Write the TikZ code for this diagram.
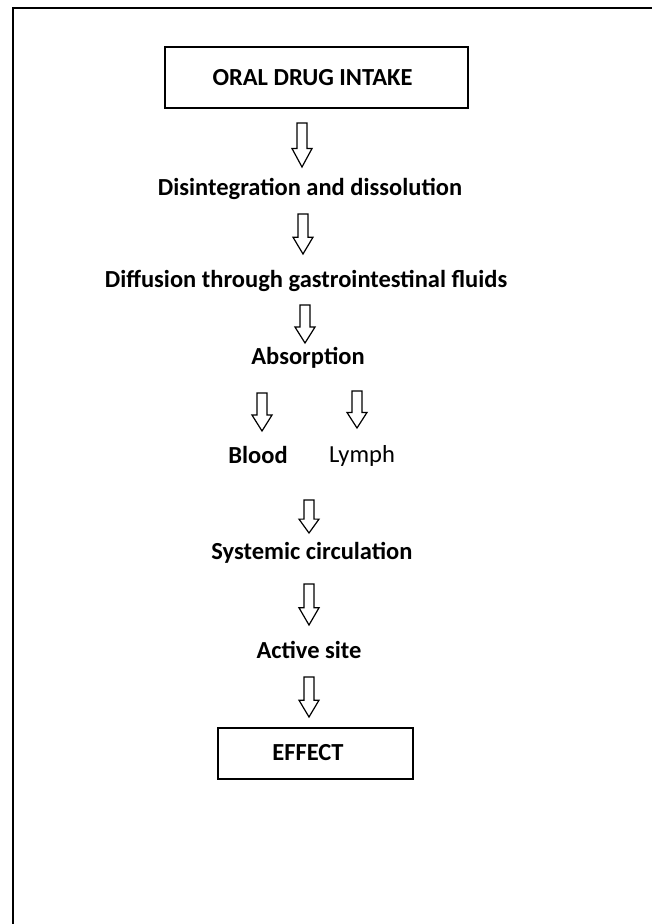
\documentclass[tikz,border=0pt]{standalone}
\usepackage{fontspec}
\setmainfont{Carlito}
\usetikzlibrary{calc}
\tikzset{
  lbl/.style={font=\bfseries\fontsize{24.5}{28}\selectfont, inner sep=0pt, anchor=base},
  lblreg/.style={font=\fontsize{24.5}{28}\selectfont, inner sep=0pt, anchor=base},
  boxnode/.style={draw, line width=1.5pt, inner sep=0pt},
  arr/.style={draw, line width=1.2pt, line join=miter, fill=white},
}
\newcommand\barrow[2]{%
  \draw[arr] let \p1=(#1), \p2=(#2), \n1={(\y2-\y1)*0.58} in
    (\x1-5pt,\y1) -- (\x1+5pt,\y1) -- (\x1+5pt,\y1+\n1) -- (\x1+10pt,\y1+\n1)
    -- (\x1,\y2) -- (\x1-10pt,\y1+\n1) -- (\x1-5pt,\y1+\n1) -- cycle;}
\begin{document}
\begin{tikzpicture}[x=1pt,y=-1pt]
\useasboundingbox (0,0) rectangle (651,924);
\fill[white] (0,0) rectangle (651,924);
% outer frame (cropped at right and bottom)
\draw[line width=2.2pt] (13,935) -- (13,8) -- (665,8);
% boxes
\node[boxnode, minimum width=303, minimum height=61] (oral) at (316.5,77.5) {};
\node[lbl] (oraltxt) at (312.5,85) {ORAL DRUG INTAKE};
\node[boxnode, minimum width=195, minimum height=51] (effect) at (315.5,753.5) {};
\node[lbl] (effecttxt) at (308,760) {EFFECT};
% labels
\node[lbl] (dis) at (310,195) {Disintegration and dissolution};
\node[lbl] (dif) at (306,287) {Diffusion through gastrointestinal fluids};
\node[lbl] (abs) at (308,364) {Absorption};
\node[lbl] (blood) at (258,463) {Blood};
\node[lblreg] (lymph) at (362,462) {Lymph};
\node[lbl] (sys) at (312,559) {Systemic circulation};
\node[lbl] (act) at (309,658) {Active site};
% arrow end points
\coordinate (a1t) at (302,123); \coordinate (a1b) at (302,167);
\coordinate (a2t) at (303,214); \coordinate (a2b) at (303,254);
\coordinate (a3t) at (305,305); \coordinate (a3b) at (305,343);
\coordinate (a4t) at (262,393); \coordinate (a4b) at (262,431);
\coordinate (a5t) at (357,391); \coordinate (a5b) at (357,428);
\coordinate (a6t) at (309,500); \coordinate (a6b) at (309,533);
\coordinate (a7t) at (309,584); \coordinate (a7b) at (309,625);
\coordinate (a8t) at (309,677); \coordinate (a8b) at (309,717);
\barrow{a1t}{a1b}
\barrow{a2t}{a2b}
\barrow{a3t}{a3b}
\barrow{a4t}{a4b}
\barrow{a5t}{a5b}
\barrow{a6t}{a6b}
\barrow{a7t}{a7b}
\barrow{a8t}{a8b}
\end{tikzpicture}
\end{document}
